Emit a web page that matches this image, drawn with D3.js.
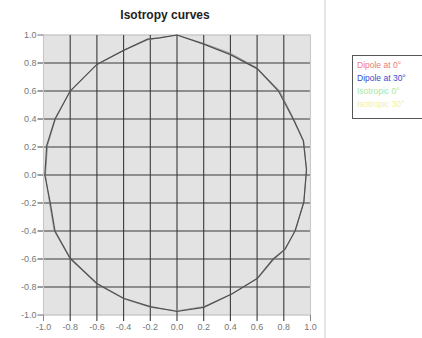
<!DOCTYPE html>
<html>
<head>
<meta charset="utf-8">
<script src="https://cdn.jsdelivr.net/npm/d3@7"></script>
<style>
  html, body { margin: 0; padding: 0; background: #fff; }
  svg { display: block; font-family: "Liberation Sans", Arial, sans-serif; }
</style>
</head>
<body>
<svg id="chart" width="422" height="338"></svg>
<script>
// Axis ticks
const xTicks = [-1.0, -0.8, -0.6, -0.4, -0.2, 0.0, 0.2, 0.4, 0.6, 0.8, 1.0];
const yTicks = [1.0, 0.8, 0.6, 0.4, 0.2, 0.0, -0.2, -0.4, -0.6, -0.8, -1.0];

// Series names and colours
const seriesNames = ["Dipole at 0°", "Dipole at 30°", "Isotropic 0°", "Isotropic 30°"];
const legendColors = ["#f07878", "#3a4ad0", "#a8e8a0", "#f4f09a"];

// Dipole at 0°: closed curve, going clockwise from the top
const dipole0X = [0.0, 0.2, 0.4, 0.6, 0.76, 0.87, 0.946, 0.97, 0.95, 0.884, 0.81, 0.72, 0.6, 0.41, 0.2, 0.0,
                  -0.2, -0.4, -0.6, -0.8, -0.914, -0.95, -0.99, -0.976, -0.914, -0.8, -0.6, -0.4, -0.22, -0.13];
const dipole0Y = [1.0, 0.935, 0.86, 0.76, 0.60, 0.40, 0.245, 0.04, -0.195, -0.40, -0.53, -0.60, -0.74, -0.85, -0.945, -0.975,
                  -0.94, -0.88, -0.775, -0.595, -0.40, -0.195, 0.0, 0.21, 0.40, 0.60, 0.79, 0.89, 0.97, 0.98];

// Dipole at 30°: almost on top of the first curve
const dipole30X = [0.0, 0.2, 0.4, 0.6, 0.77, 0.875, 0.95, 0.97, 0.95, 0.89, 0.8, 0.72, 0.61, 0.42, 0.2, 0.0,
                   -0.2, -0.4, -0.6, -0.8, -0.92, -0.955, -0.985, -0.97, -0.91, -0.8, -0.6, -0.4, -0.22, -0.13];
const dipole30Y = [1.0, 0.94, 0.87, 0.765, 0.60, 0.40, 0.24, 0.03, -0.19, -0.39, -0.54, -0.61, -0.735, -0.845, -0.94, -0.97,
                   -0.945, -0.885, -0.78, -0.6, -0.40, -0.2, 0.0, 0.21, 0.40, 0.60, 0.79, 0.89, 0.965, 0.98];

const svg = d3.select("#chart");

const x = d3.scaleLinear().domain([-1, 1]).range([43.5, 310.5]);
const y = d3.scaleLinear().domain([-1, 1]).range([315, 35]);

// Panel separator on the right of the plot
svg.append("line").attr("x1", 325).attr("x2", 325).attr("y1", 0).attr("y2", 338)
  .attr("stroke", "#dedede").attr("stroke-width", 1.5);

// Plot background
svg.append("rect")
  .attr("x", x(-1)).attr("y", y(1))
  .attr("width", x(1) - x(-1)).attr("height", y(-1) - y(1))
  .attr("fill", "#e3e3e3").attr("stroke", "#cfcfcf").attr("stroke-width", 1);

// Grid lines
const inner = v => Math.abs(v) < 0.999;
svg.append("g").selectAll("line").data(yTicks).join("line")
  .attr("x1", x(-1) - 6).attr("x2", x(1))
  .attr("y1", d => y(d)).attr("y2", d => y(d))
  .attr("stroke", d => inner(d) ? "#3a3a3a" : "#c8c8c8")
  .attr("stroke-width", 1.1);
svg.append("g").selectAll("line").data(xTicks).join("line")
  .attr("x1", d => x(d)).attr("x2", d => x(d))
  .attr("y1", y(1)).attr("y2", y(-1) + 6)
  .attr("stroke", d => inner(d) ? "#3a3a3a" : "#c8c8c8")
  .attr("stroke-width", 1.1);

// Tick stubs at the edges
svg.append("line").attr("x1", x(-1) - 6).attr("x2", x(-1)).attr("y1", y(1)).attr("y2", y(1)).attr("stroke", "#888");
svg.append("line").attr("x1", x(-1) - 6).attr("x2", x(-1)).attr("y1", y(-1)).attr("y2", y(-1)).attr("stroke", "#888");
svg.append("line").attr("x1", x(-1)).attr("x2", x(-1)).attr("y1", y(-1)).attr("y2", y(-1) + 6).attr("stroke", "#888");
svg.append("line").attr("x1", x(1)).attr("x2", x(1)).attr("y1", y(-1)).attr("y2", y(-1) + 6).attr("stroke", "#888");

// Tick labels (plain hyphen for negatives)
const fmt = v => d3.format(".1f")(v).replace("\u2212", "-");
svg.append("g").selectAll("text").data(yTicks).join("text")
  .attr("x", x(-1) - 7).attr("y", d => y(d)).attr("dy", "0.35em")
  .attr("text-anchor", "end").attr("font-size", 9).attr("fill", "#777")
  .text(d => fmt(d));
svg.append("g").selectAll("text").data(xTicks).join("text")
  .attr("x", d => x(d)).attr("y", y(-1) + 15)
  .attr("text-anchor", "middle").attr("font-size", 9).attr("fill", "#777")
  .text(d => fmt(d));

// Curves
const line = d3.line().x(d => x(d[0])).y(d => y(d[1])).curve(d3.curveLinearClosed);
const pts0 = d3.zip(dipole0X, dipole0Y);
const pts30 = d3.zip(dipole30X, dipole30Y);
svg.append("path").attr("d", line(pts30))
  .attr("fill", "none").attr("stroke", "#8a8a8a").attr("stroke-width", 1).attr("stroke-opacity", 0.8);
svg.append("path").attr("d", line(pts0))
  .attr("fill", "none").attr("stroke", "#505050").attr("stroke-width", 1.2);

// Title
svg.append("text").attr("x", 165).attr("y", 19)
  .attr("text-anchor", "middle").attr("font-size", 12).attr("font-weight", "bold")
  .attr("fill", "#222").text("Isotropy curves");

// Legend
const lg = svg.append("g");
lg.append("rect").attr("x", 352.5).attr("y", 55.5).attr("width", 80).attr("height", 63)
  .attr("fill", "#fff").attr("stroke", "#555").attr("stroke-width", 1);
lg.selectAll("text").data(seriesNames).join("text")
  .attr("x", 357).attr("y", (d, i) => 68 + i * 13)
  .attr("font-size", 8.5).attr("fill", (d, i) => legendColors[i])
  .text(d => d);
</script>
</body>
</html>
